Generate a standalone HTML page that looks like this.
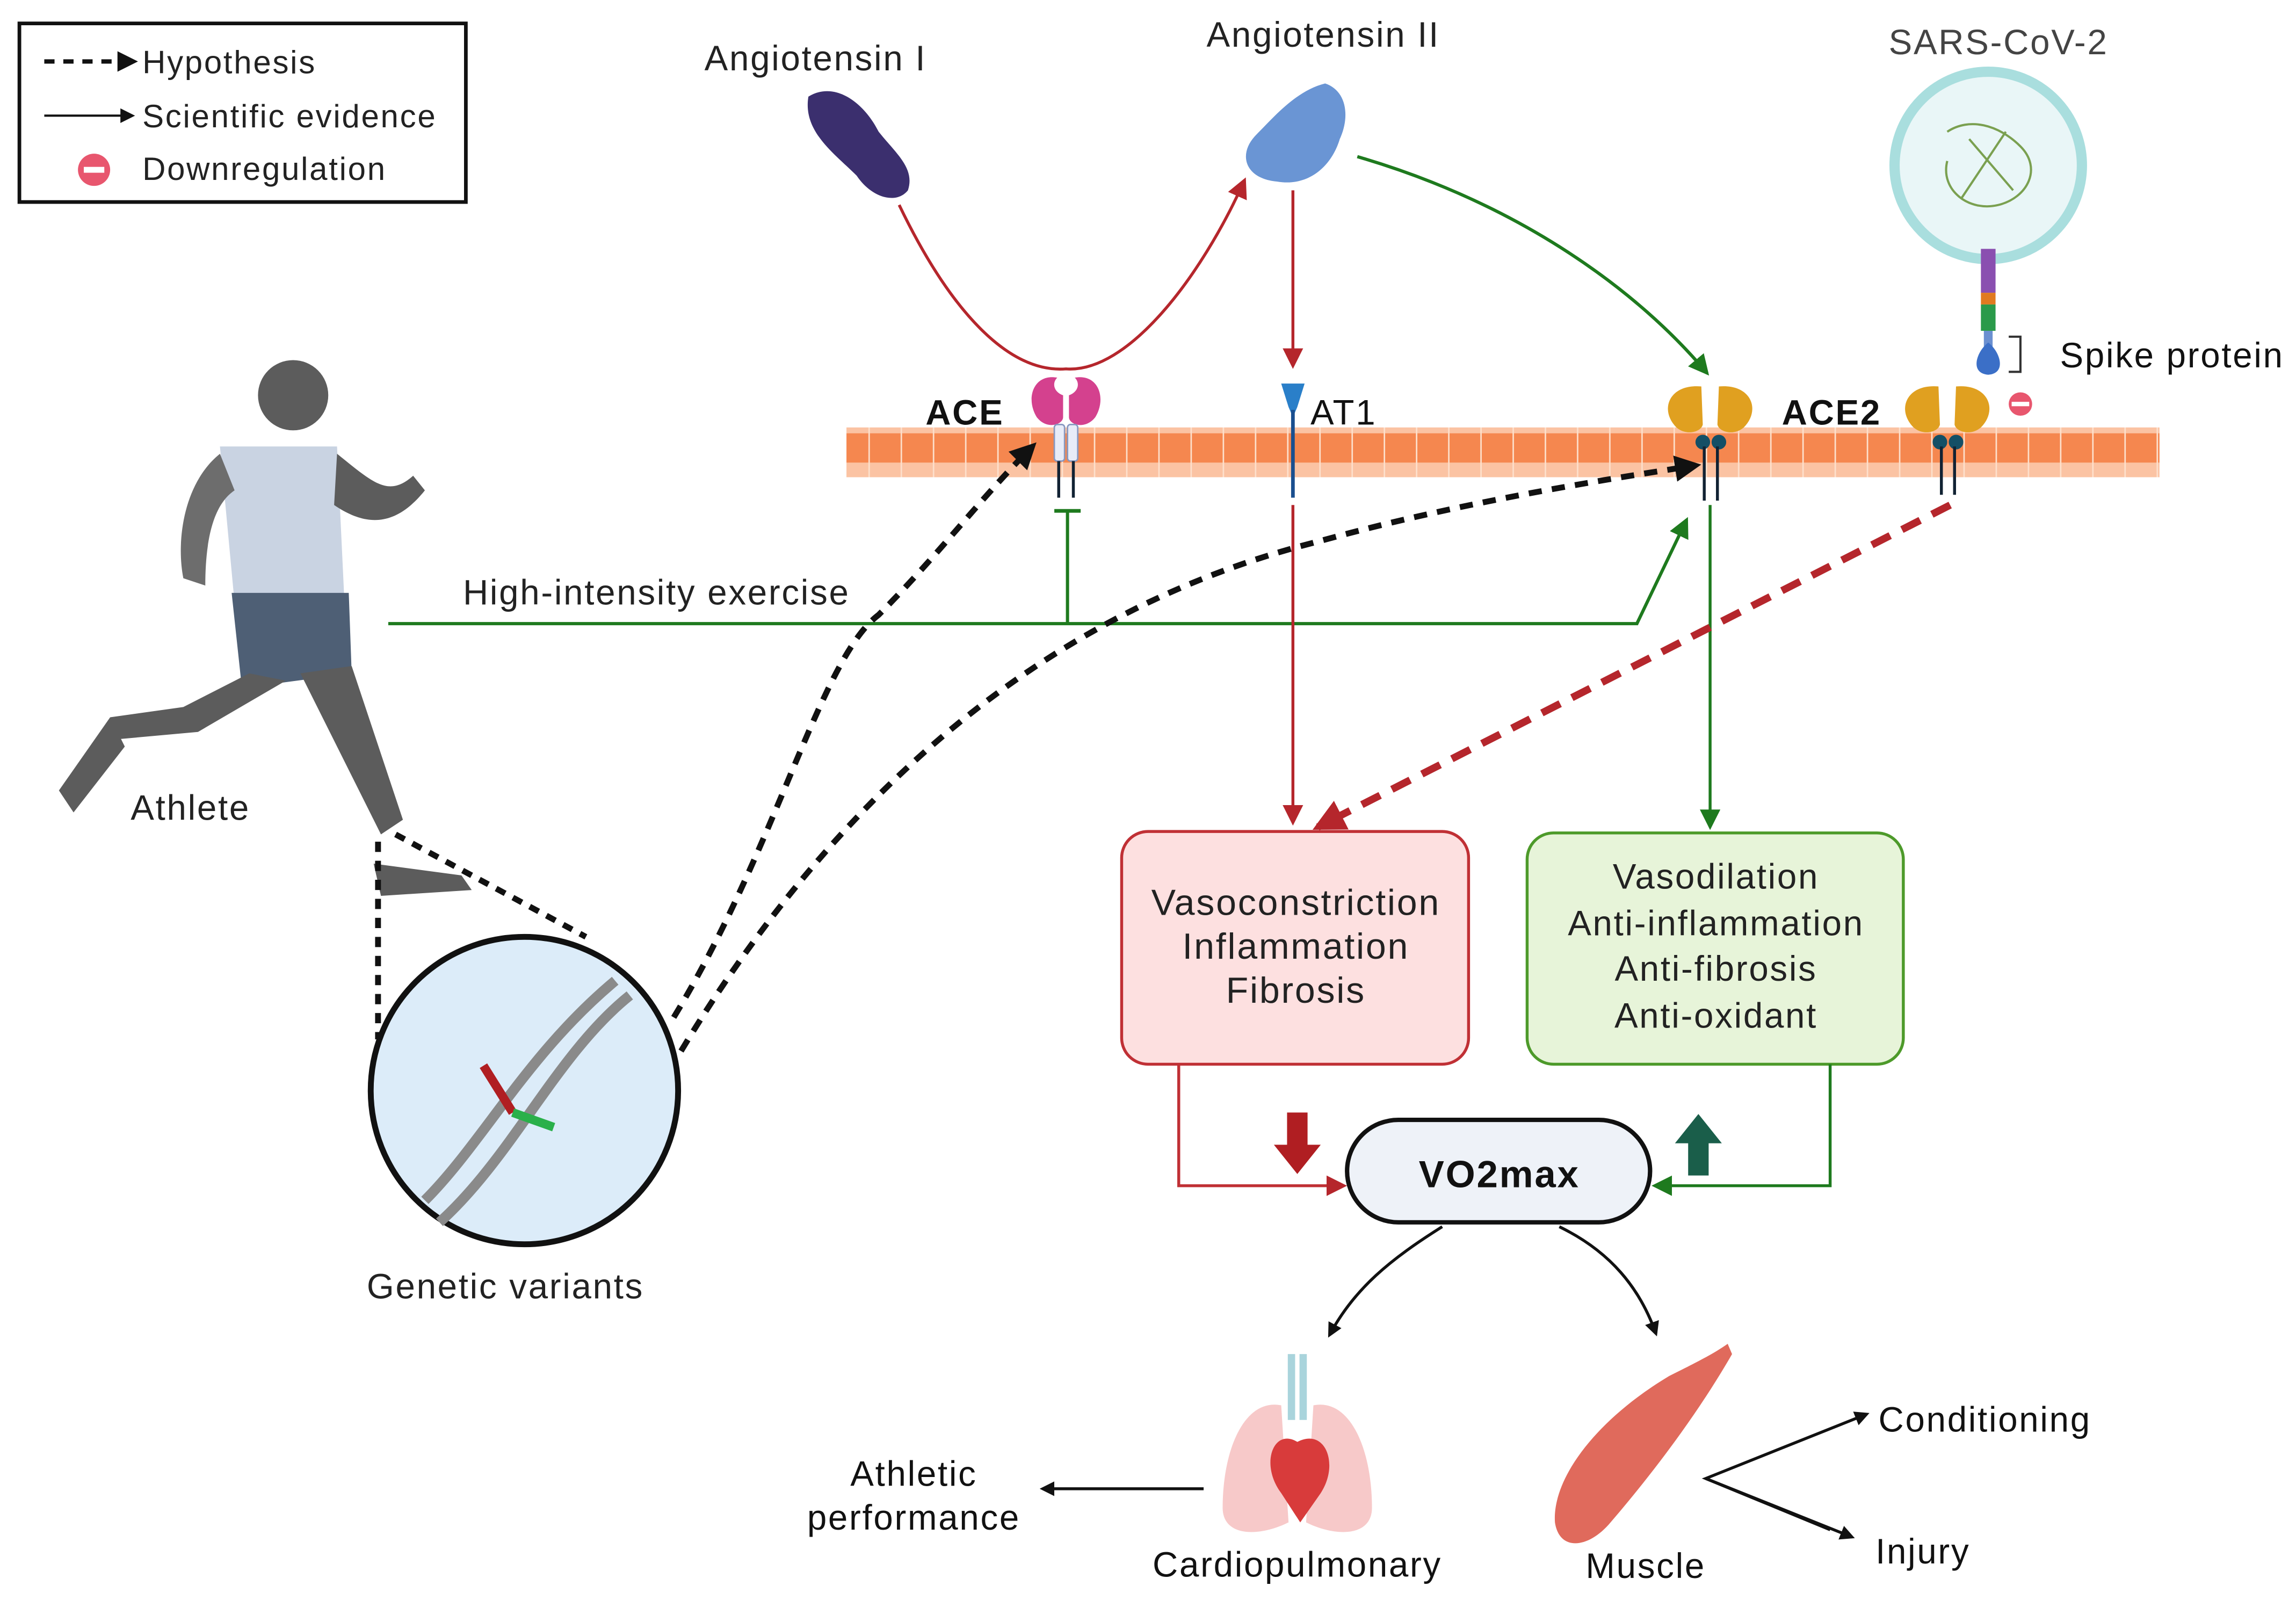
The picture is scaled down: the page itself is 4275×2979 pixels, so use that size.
<!DOCTYPE html>
<html><head><meta charset="utf-8"><style>html,body{margin:0;padding:0;background:#fff}svg{display:block}text{letter-spacing:1px}</style></head>
<body>
<svg width="4275" height="2979" viewBox="0 0 1568 1093" xmlns="http://www.w3.org/2000/svg" font-family="Liberation Sans, sans-serif">
<defs>
<marker id="ak" markerWidth="10" markerHeight="10" refX="8" refY="5" orient="auto" markerUnits="userSpaceOnUse"><path d="M0,0L10,5L0,10z" fill="#111"/></marker>
<marker id="akb" markerWidth="18" markerHeight="18" refX="14" refY="9" orient="auto" markerUnits="userSpaceOnUse"><path d="M0,0L18,9L0,18z" fill="#111"/></marker>
<marker id="ar" markerWidth="14" markerHeight="14" refX="12" refY="7" orient="auto" markerUnits="userSpaceOnUse"><path d="M0,0L14,7L0,14z" fill="#b5262c"/></marker>
<marker id="arb" markerWidth="22" markerHeight="22" refX="18" refY="11" orient="auto" markerUnits="userSpaceOnUse"><path d="M0,0L22,11L0,22z" fill="#b5262c"/></marker>
<marker id="ag" markerWidth="14" markerHeight="14" refX="12" refY="7" orient="auto" markerUnits="userSpaceOnUse"><path d="M0,0L14,7L0,14z" fill="#1e7a1e"/></marker>
<pattern id="mem" width="22" height="34" patternUnits="userSpaceOnUse"><rect width="22" height="34" fill="#f5874f"/><rect y="10" width="22" height="14" fill="#fbc3a3"/><rect x="21" width="1" height="34" fill="#fde0cc"/></pattern>
</defs>
<!-- legend -->
<rect x="13" y="16" width="305" height="122" fill="#fff" stroke="#111" stroke-width="2.5"/>
<line x1="30" y1="42" x2="84" y2="42" stroke="#111" stroke-width="3" stroke-dasharray="7,6"/><path d="M80,35L94,42L80,49z" fill="#111"/>
<text x="97" y="50" font-size="22" fill="#222">Hypothesis</text>
<line x1="30" y1="79" x2="90" y2="79" stroke="#111" stroke-width="1.5" marker-end="url(#ak)"/>
<text x="97" y="87" font-size="22" fill="#222">Scientific evidence</text>
<circle cx="64" cy="116" r="11" fill="#e8566e"/><rect x="57" y="114" width="14" height="4" fill="#fff"/>
<text x="97" y="123" font-size="22" fill="#222">Downregulation</text>
<!-- membrane -->
<rect x="578" y="292" width="897" height="34" fill="url(#mem)"/>
<!-- angiotensins -->
<text x="481" y="48" font-size="24" fill="#222">Angiotensin I</text>
<text x="824" y="32" font-size="24" fill="#222">Angiotensin II</text>
<text x="1290" y="37" font-size="24" fill="#444">SARS-CoV-2</text>
<path d="M552,66 C570,55 590,70 600,90 C612,105 625,115 620,130 C612,140 595,135 585,120 C570,105 548,90 552,66z" fill="#3b2f6e"/>
<path d="M905,57 C920,62 922,80 915,95 C910,112 895,128 872,124 C850,122 845,105 858,92 C870,80 885,62 905,57z" fill="#6a95d4"/>
<!-- ACE arrows -->
<path d="M614,140 C650,215 690,255 728,252 C770,255 820,190 850,123" fill="none" stroke="#b5262c" stroke-width="2" marker-end="url(#ar)"/>
<line x1="883" y1="130" x2="883" y2="250" stroke="#b5262c" stroke-width="2" marker-end="url(#ar)"/>
<path d="M927,107 C1040,140 1120,200 1166,255" fill="none" stroke="#1e7a1e" stroke-width="2.2" marker-end="url(#ag)"/>
<!-- ACE receptor -->
<path d="M722,258 C706,255 700,272 708,285 C715,294 726,290 726,285 L726,270 C720,268 718,262 722,258z" fill="#d4418e"/>
<path d="M734,258 C750,255 756,272 748,285 C741,294 730,290 730,285 L730,270 C736,268 738,262 734,258z" fill="#d4418e"/>
<rect x="720" y="290" width="7" height="25" rx="2" fill="#e8ecf8" stroke="#8898c0"/><rect x="729" y="290" width="7" height="25" rx="2" fill="#e8ecf8" stroke="#8898c0"/>
<line x1="723" y1="315" x2="723" y2="340" stroke="#123" stroke-width="2"/><line x1="733" y1="315" x2="733" y2="340" stroke="#123" stroke-width="2"/>
<text x="632" y="290" font-size="24" font-weight="bold" fill="#111" letter-spacing="0">ACE</text>
<!-- AT1 -->
<path d="M875,262 L891,262 L886,278 L883,285 L880,278z" fill="#2a7fc9"/>
<line x1="883" y1="280" x2="883" y2="340" stroke="#1a4f8f" stroke-width="2.5"/>
<text x="895" y="290" font-size="24" fill="#111">AT1</text>
<!-- ACE2 -->
<g fill="#e0a020">
<path d="M1162,264 C1140,262 1133,280 1145,292 C1152,298 1162,295 1163,290z"/><path d="M1174,264 C1196,262 1203,280 1191,292 C1184,298 1174,295 1173,290z"/>
<path d="M1324,264 C1302,262 1295,280 1307,292 C1314,298 1324,295 1325,290z"/><path d="M1336,264 C1358,262 1365,280 1353,292 C1346,298 1336,295 1335,290z"/>
</g>
<g fill="#144f66"><circle cx="1163" cy="302" r="5"/><circle cx="1174" cy="302" r="5"/><circle cx="1325" cy="302" r="5"/><circle cx="1336" cy="302" r="5"/></g>
<g stroke="#123" stroke-width="2"><line x1="1164" y1="305" x2="1164" y2="342"/><line x1="1173" y1="305" x2="1173" y2="342"/><line x1="1326" y1="305" x2="1326" y2="338"/><line x1="1335" y1="305" x2="1335" y2="338"/></g>
<text x="1217" y="290" font-size="24" font-weight="bold" fill="#111" letter-spacing="0">ACE2</text>
<circle cx="1380" cy="276" r="8" fill="#e8566e"/><rect x="1374" y="274.5" width="12" height="3" fill="#fff"/>
<!-- virus -->
<circle cx="1358" cy="113" r="64" fill="#e9f6f7" stroke="#a9dede" stroke-width="7"/>
<path d="M1330,90 C1345,80 1365,85 1380,100 C1395,115 1385,135 1365,140 C1345,145 1325,130 1330,110 M1345,95 L1375,130 M1370,90 L1340,135" fill="none" stroke="#7aa050" stroke-width="1.5"/>
<rect x="1353" y="170" width="10" height="30" fill="#8a4fb0"/><rect x="1353" y="200" width="10" height="8" fill="#e07a20"/><rect x="1353" y="208" width="10" height="18" fill="#2a9a4a"/><rect x="1355" y="226" width="6" height="12" fill="#6a8fd0"/>
<path d="M1358,234 C1350,240 1345,255 1358,256 C1371,255 1366,240 1358,234" fill="#3b6fc7"/>
<path d="M1372,230 L1380,230 L1380,254 L1372,254" fill="none" stroke="#333" stroke-width="1.5"/>
<text x="1407" y="251" font-size="24" fill="#111">Spike protein</text>
<!-- exercise -->
<text x="316" y="413" font-size="24" fill="#222">High-intensity exercise</text>
<path d="M265,426 L1118,426 L1152,355" fill="none" stroke="#1e7a1e" stroke-width="2.2" marker-end="url(#ag)"/>
<line x1="729" y1="426" x2="729" y2="350" stroke="#1e7a1e" stroke-width="2.2"/><line x1="720" y1="349" x2="738" y2="349" stroke="#1e7a1e" stroke-width="2.5"/>
<!-- downstream -->
<line x1="883" y1="345" x2="883" y2="562" stroke="#b5262c" stroke-width="2" marker-end="url(#ar)"/>
<line x1="1168" y1="345" x2="1168" y2="565" stroke="#1e7a1e" stroke-width="2" marker-end="url(#ag)"/>
<line x1="1332" y1="345" x2="900" y2="565" stroke="#b5262c" stroke-width="5" stroke-dasharray="14,9" marker-end="url(#arb)"/>
<!-- dashed black -->
<path d="M460,695 C530,580 560,450 600,420 C640,380 670,340 705,305" fill="none" stroke="#111" stroke-width="4" stroke-dasharray="9,7" marker-end="url(#akb)"/>
<path d="M465,718 C560,560 700,420 900,370 C990,345 1080,330 1158,318" fill="none" stroke="#111" stroke-width="4" stroke-dasharray="9,7" marker-end="url(#akb)"/>
<!-- boxes -->
<rect x="766" y="568" width="237" height="159" rx="18" fill="#fde0e0" stroke="#c03035" stroke-width="2"/>
<text font-size="25" fill="#222" text-anchor="middle"><tspan x="885" y="625">Vasoconstriction</tspan><tspan x="885" y="655">Inflammation</tspan><tspan x="885" y="685">Fibrosis</tspan></text>
<rect x="1043" y="569" width="257" height="158" rx="18" fill="#e7f4d9" stroke="#4d9a2a" stroke-width="2"/>
<text font-size="24" fill="#222" text-anchor="middle"><tspan x="1172" y="607">Vasodilation</tspan><tspan x="1172" y="639">Anti-inflammation</tspan><tspan x="1172" y="670">Anti-fibrosis</tspan><tspan x="1172" y="702">Anti-oxidant</tspan></text>
<!-- VO2max -->
<path d="M805,727 L805,810 L918,810" fill="none" stroke="#c03035" stroke-width="2" marker-end="url(#ar)"/>
<path d="M1250,727 L1250,810 L1130,810" fill="none" stroke="#1e7a1e" stroke-width="2" marker-end="url(#ag)"/>
<rect x="920" y="765" width="207" height="70" rx="35" fill="#eef2f8" stroke="#111" stroke-width="3"/>
<text x="1024" y="811" font-size="26" font-weight="bold" text-anchor="middle" fill="#111">VO2max</text>
<path d="M879,760 L893,760 L893,782 L902,782 L886,802 L870,782 L879,782z" fill="#b01e22"/>
<path d="M1153,803 L1167,803 L1167,781 L1176,781 L1160,761 L1144,781 L1153,781z" fill="#1a5e4a"/>
<path d="M985,838 C950,860 925,880 908,912" fill="none" stroke="#111" stroke-width="2" marker-end="url(#ak)"/>
<path d="M1065,838 C1100,855 1120,880 1131,911" fill="none" stroke="#111" stroke-width="2" marker-end="url(#ak)"/>
<!-- organs -->
<path d="M882,925 L882,970 M890,925 L890,970" stroke="#a9d4dc" stroke-width="5"/>
<path d="M875,960 C850,955 835,990 835,1030 C835,1050 860,1050 880,1040z" fill="#f7c9c9"/>
<path d="M897,960 C922,955 937,990 937,1030 C937,1050 912,1050 892,1040z" fill="#f7c9c9"/>
<path d="M886,985 C870,975 860,1000 875,1020 L888,1040 L902,1020 C915,1000 905,975 886,985z" fill="#d83b3b"/>
<text x="886" y="1077" font-size="24" text-anchor="middle" fill="#111">Cardiopulmonary</text>
<path d="M1180,918 C1170,925 1160,930 1140,940 C1090,970 1060,1010 1062,1040 C1065,1060 1085,1058 1100,1040 C1130,1005 1160,965 1183,925z" fill="#e06a5c"/>
<text x="1124" y="1078" font-size="24" text-anchor="middle" fill="#111">Muscle</text>
<line x1="822" y1="1017" x2="712" y2="1017" stroke="#111" stroke-width="2" marker-end="url(#ak)"/>
<text font-size="24" text-anchor="middle" fill="#111"><tspan x="624" y="1015">Athletic</tspan><tspan x="624" y="1045">performance</tspan></text>
<path d="M1250,1045 L1165,1010 L1275,966" fill="none" stroke="#111" stroke-width="2" marker-end="url(#ak)"/>
<path d="M1165,1010 L1265,1050" fill="none" stroke="#111" stroke-width="2" marker-end="url(#ak)"/>
<text x="1283" y="978" font-size="24" fill="#111">Conditioning</text>
<text x="1281" y="1068" font-size="24" fill="#111">Injury</text>
<!-- runner -->
<g fill="#5c5c5c">
<circle cx="200" cy="270" r="24"/>
<path d="M150,305 L230,305 L235,410 L160,412z" fill="#c9d3e2"/>
<path d="M150,310 C125,330 120,370 125,395 L140,400 C140,370 145,345 160,335z" fill="#6d6d6d"/>
<path d="M230,310 C255,330 265,340 282,325 L290,335 C270,360 250,360 228,345z"/>
<path d="M158,405 L238,405 L240,460 L165,470z" fill="#4e5f75"/>
<path d="M170,460 L195,465 L135,500 L80,505 L75,490 L125,483z"/>
<path d="M40,540 L75,490 L85,510 L50,555z"/>
<path d="M205,460 L240,455 L275,560 L260,570z"/>
<path d="M255,590 L315,598 L322,608 L260,612z"/>
</g>
<text x="89" y="560" font-size="24" fill="#222">Athlete</text>
<line x1="258" y1="575" x2="258" y2="710" stroke="#111" stroke-width="4" stroke-dasharray="7,6"/>
<line x1="270" y1="570" x2="400" y2="640" stroke="#111" stroke-width="4" stroke-dasharray="7,6"/>
<circle cx="358" cy="745" r="105" fill="#dcecf9" stroke="#111" stroke-width="4"/>
<path d="M290,820 C330,780 360,720 420,670 M300,835 C350,790 380,720 430,680" fill="none" stroke="#8a8a8a" stroke-width="7"/>
<path d="M330,728 L350,760" stroke="#b01e22" stroke-width="6"/><path d="M350,760 L378,770" stroke="#2ab04a" stroke-width="6"/>
<text x="345" y="887" font-size="24" text-anchor="middle" fill="#222">Genetic variants</text>
</svg>
</body></html>
